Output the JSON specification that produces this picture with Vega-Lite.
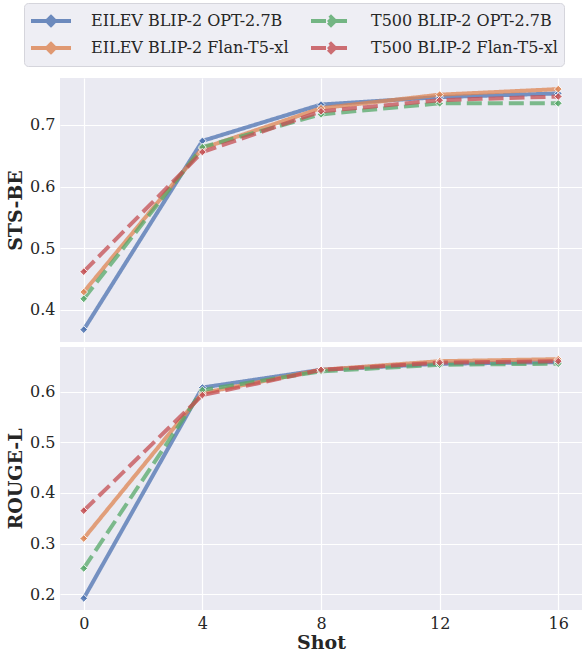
{
  "$schema": "https://vega.github.io/schema/vega-lite/v6.json",
  "padding": {"left": 6, "top": 2, "right": 0, "bottom": 0},
  "spacing": 5,
  "background": "white",
  "data": {
    "values": [
      {"shot": 0, "series": "EILEV BLIP-2 OPT-2.7B", "sts": 0.368, "rouge": 0.192},
      {"shot": 4, "series": "EILEV BLIP-2 OPT-2.7B", "sts": 0.674, "rouge": 0.608},
      {"shot": 8, "series": "EILEV BLIP-2 OPT-2.7B", "sts": 0.733, "rouge": 0.643},
      {"shot": 12, "series": "EILEV BLIP-2 OPT-2.7B", "sts": 0.745, "rouge": 0.655},
      {"shot": 16, "series": "EILEV BLIP-2 OPT-2.7B", "sts": 0.751, "rouge": 0.658},
      {"shot": 0, "series": "EILEV BLIP-2 Flan-T5-xl", "sts": 0.429, "rouge": 0.310},
      {"shot": 4, "series": "EILEV BLIP-2 Flan-T5-xl", "sts": 0.662, "rouge": 0.597},
      {"shot": 8, "series": "EILEV BLIP-2 Flan-T5-xl", "sts": 0.727, "rouge": 0.643},
      {"shot": 12, "series": "EILEV BLIP-2 Flan-T5-xl", "sts": 0.749, "rouge": 0.660},
      {"shot": 16, "series": "EILEV BLIP-2 Flan-T5-xl", "sts": 0.758, "rouge": 0.664},
      {"shot": 0, "series": "T500 BLIP-2 OPT-2.7B", "sts": 0.418, "rouge": 0.251},
      {"shot": 4, "series": "T500 BLIP-2 OPT-2.7B", "sts": 0.664, "rouge": 0.603},
      {"shot": 8, "series": "T500 BLIP-2 OPT-2.7B", "sts": 0.717, "rouge": 0.640},
      {"shot": 12, "series": "T500 BLIP-2 OPT-2.7B", "sts": 0.735, "rouge": 0.653},
      {"shot": 16, "series": "T500 BLIP-2 OPT-2.7B", "sts": 0.735, "rouge": 0.655},
      {"shot": 0, "series": "T500 BLIP-2 Flan-T5-xl", "sts": 0.462, "rouge": 0.365},
      {"shot": 4, "series": "T500 BLIP-2 Flan-T5-xl", "sts": 0.656, "rouge": 0.593},
      {"shot": 8, "series": "T500 BLIP-2 Flan-T5-xl", "sts": 0.722, "rouge": 0.643},
      {"shot": 12, "series": "T500 BLIP-2 Flan-T5-xl", "sts": 0.740, "rouge": 0.657},
      {"shot": 16, "series": "T500 BLIP-2 Flan-T5-xl", "sts": 0.746, "rouge": 0.660}
    ]
  },
  "vconcat": [
    {
      "width": 522,
      "height": 264,
      "encoding": {
        "x": {"field": "shot", "type": "quantitative",
              "scale": {"domain": [-0.8, 16.8], "nice": false, "zero": false},
              "axis": {"values": [0, 4, 8, 12, 16], "labels": false, "ticks": false, "title": null, "domain": false}},
        "y": {"field": "sts", "type": "quantitative",
              "scale": {"domain": [0.348, 0.776], "nice": false, "zero": false},
              "axis": {"values": [0.4, 0.5, 0.6, 0.7], "format": ".1f", "title": "STS-BE"}},
        "color": {"field": "series", "type": "nominal",
                  "scale": {"domain": ["EILEV BLIP-2 OPT-2.7B", "EILEV BLIP-2 Flan-T5-xl", "T500 BLIP-2 OPT-2.7B", "T500 BLIP-2 Flan-T5-xl"],
                            "range": ["#4c72b0", "#dd8452", "#55a868", "#c44e52"]},
                  "legend": {"title": null}}
      },
      "layer": [
        {"mark": {"type": "line", "strokeWidth": 4, "opacity": 0.75},
         "encoding": {"strokeDash": {"field": "series", "type": "nominal",
             "scale": {"domain": ["EILEV BLIP-2 OPT-2.7B", "EILEV BLIP-2 Flan-T5-xl", "T500 BLIP-2 OPT-2.7B", "T500 BLIP-2 Flan-T5-xl"],
                       "range": [[1, 0], [1, 0], [15, 6], [15, 6]]},
             "legend": {"title": null}}}},
        {"mark": {"type": "point", "shape": "diamond", "filled": true, "size": 60, "stroke": "white", "strokeWidth": 1, "opacity": 0.85}}
      ]
    },
    {
      "width": 522,
      "height": 263,
      "encoding": {
        "x": {"field": "shot", "type": "quantitative",
              "scale": {"domain": [-0.8, 16.8], "nice": false, "zero": false},
              "axis": {"values": [0, 4, 8, 12, 16], "format": "d", "title": "Shot", "domain": false, "ticks": false, "labelPadding": 5, "titlePadding": 2}},
        "y": {"field": "rouge", "type": "quantitative",
              "scale": {"domain": [0.169, 0.688], "nice": false, "zero": false},
              "axis": {"values": [0.2, 0.3, 0.4, 0.5, 0.6], "format": ".1f", "title": "ROUGE-L"}},
        "color": {"field": "series", "type": "nominal",
                  "scale": {"domain": ["EILEV BLIP-2 OPT-2.7B", "EILEV BLIP-2 Flan-T5-xl", "T500 BLIP-2 OPT-2.7B", "T500 BLIP-2 Flan-T5-xl"],
                            "range": ["#4c72b0", "#dd8452", "#55a868", "#c44e52"]},
                  "legend": {"title": null}}
      },
      "layer": [
        {"mark": {"type": "line", "strokeWidth": 4, "opacity": 0.75},
         "encoding": {"strokeDash": {"field": "series", "type": "nominal",
             "scale": {"domain": ["EILEV BLIP-2 OPT-2.7B", "EILEV BLIP-2 Flan-T5-xl", "T500 BLIP-2 OPT-2.7B", "T500 BLIP-2 Flan-T5-xl"],
                       "range": [[1, 0], [1, 0], [15, 6], [15, 6]]},
             "legend": {"title": null}}}},
        {"mark": {"type": "point", "shape": "diamond", "filled": true, "size": 60, "stroke": "white", "strokeWidth": 1, "opacity": 0.85}}
      ]
    }
  ],
  "resolve": {"scale": {"x": "independent", "y": "independent"}},
  "config": {
    "font": "DejaVu Serif",
    "view": {"fill": "#eaeaf2", "stroke": null},
    "axis": {
      "grid": true, "gridColor": "white", "gridWidth": 1.2, "domain": false, "ticks": false,
      "labelFont": "DejaVu Serif", "labelFontSize": 16, "labelColor": "#262626", "labelPadding": 5,
      "titleFont": "DejaVu Serif", "titleFontSize": 19, "titleFontWeight": "bold", "titleColor": "#262626"
    },
    "axisY": {"titlePadding": 4},
    "legend": {
      "orient": "none", "legendX": -36, "legendY": -75,
      "columns": 2, "columnPadding": 14, "rowPadding": 3,
      "padding": 6, "fillColor": "#eeeef4", "strokeColor": "#d5d5dc", "cornerRadius": 4,
      "labelFont": "DejaVu Serif", "labelFontSize": 16, "labelColor": "#262626", "labelLimit": 300, "labelOffset": 28,
      "symbolOffset": 9,
      "symbolType": "M-2,0H2M0,-0.4L0.4,0L0,0.4L-0.4,0Z", "symbolSize": 400, "symbolStrokeWidth": 4, "symbolOpacity": 0.8
    }
  }
}
